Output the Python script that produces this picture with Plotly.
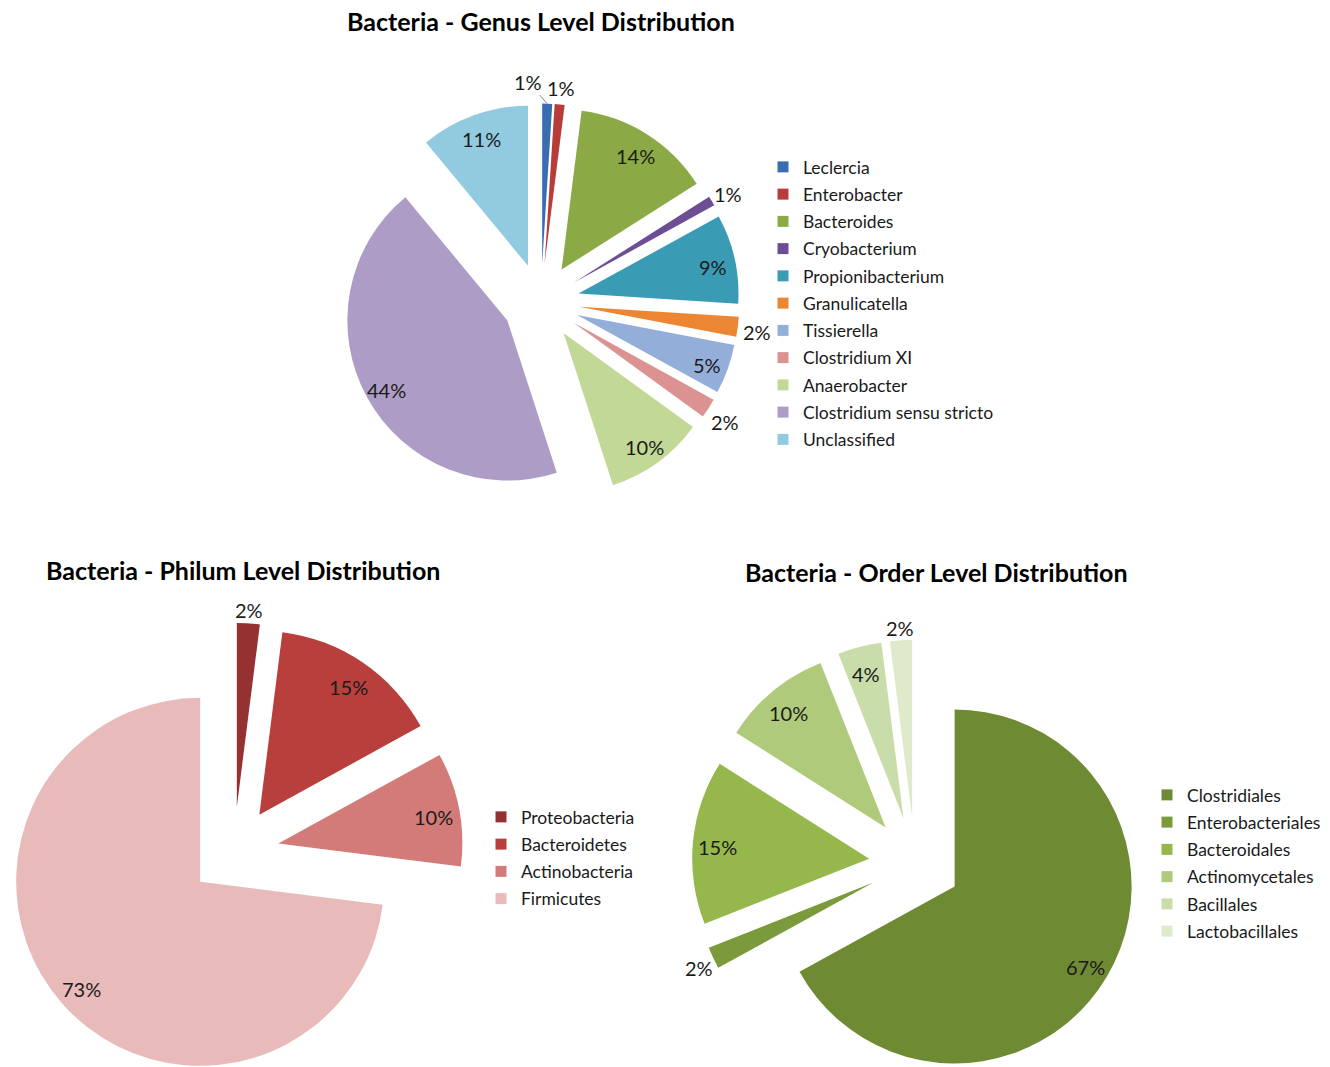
import math
import plotly.graph_objects as go

W, H = 1330, 1067
FONT = "Lato"
TEXT = "#1a1a1a"

# ---- data -------------------------------------------------------------
genus_labels = ["Leclercia", "Enterobacter", "Bacteroides", "Cryobacterium",
                "Propionibacterium", "Granulicatella", "Tissierella",
                "Clostridium XI", "Anaerobacter", "Clostridium sensu stricto",
                "Unclassified"]
genus_values = [1, 1, 14, 1, 9, 2, 5, 2, 10, 44, 11]

phylum_labels = ["Proteobacteria", "Bacteroidetes", "Actinobacteria", "Firmicutes"]
phylum_values = [2, 15, 10, 73]

order_labels = ["Clostridiales", "Enterobacteriales", "Bacteroidales",
                "Actinomycetales", "Bacillales", "Lactobacillales"]
order_values = [67, 2, 15, 10, 4, 2]

# ---- styling ----------------------------------------------------------
genus_colors = ["#3A6CB0", "#B83C3A", "#8BAA46", "#6D4E94", "#3A9BB4",
                "#ED8632", "#94AEDA", "#DD9292", "#C2D896", "#AD9CC6", "#92CADF"]
phylum_colors = ["#953231", "#B93F3D", "#D37B78", "#E8BABA"]
order_colors = ["#6E8B33", "#7A9A3B", "#95B74C", "#AFCA7B", "#C9DDAA", "#DEEAC9"]

# chart layout: centre (px), radius (px), explosion fraction, label placement
charts = [
    dict(title="Bacteria - Genus Level Distribution", title_xy=(541, 21),
         labels=genus_labels, values=genus_values, colors=genus_colors,
         center=(541, 302), r=160, explode=0.24, k_out=1.12,
         outside={0, 1, 3, 5, 7}, nudge={0: (-20, -6)}, leader={0},
         legend="legend", legend_xy=(763, 149)),
    dict(title="Bacteria - Philum Level Distribution", title_xy=(243, 570),
         labels=phylum_labels, values=phylum_values, colors=phylum_colors,
         center=(234, 852), r=184, explode=0.245, k_out=1.09,
         outside={0}, nudge={}, leader=set(),
         legend="legend2", legend_xy=(481, 799)),
    dict(title="Bacteria - Order Level Distribution", title_xy=(936, 572),
         labels=order_labels, values=order_values, colors=order_colors,
         center=(915, 863), r=177, explode=0.26, k_out=1.09,
         outside={1, 5}, nudge={}, leader=set(),
         legend="legend3", legend_xy=(1147, 777)),
]

K_IN = 0.86
LABEL_DROP = 3  # px, vertical offset of percentage labels


def px(x, y):
    return x / W, 1 - y / H


fig = go.Figure()
annotations = []

for ch in charts:
    vals = ch["values"]
    total = float(sum(vals))
    cx, cy = ch["center"]
    r = ch["r"]
    e = ch["explode"]
    cum = 0.0
    for i, (lab, v, col) in enumerate(zip(ch["labels"], vals, ch["colors"])):
        a0 = 360.0 * cum / total
        mid = math.radians(a0 + 180.0 * v / total)
        cum += v
        dx, dy = math.sin(mid), -math.cos(mid)
        # each slice is its own pie, shifted outward along its bisector
        sx, sy = cx + e * r * dx, cy + e * r * dy
        x0, y1 = px(sx - r, sy - r)
        x1, y0 = px(sx + r, sy + r)
        fig.add_trace(go.Pie(
            values=[v, total - v], labels=[lab, "rest"],
            sort=False, direction="clockwise", rotation=a0,
            marker=dict(colors=[col, "rgba(0,0,0,0)"], line=dict(width=0)),
            textinfo="none", hoverinfo="skip", showlegend=False,
            domain=dict(x=[max(0, x0), min(1, x1)], y=[max(0, y0), min(1, y1)]),
        ))
        k = ch["k_out"] if i in ch["outside"] else K_IN
        lx, ly = sx + k * r * dx, sy + k * r * dy + LABEL_DROP
        nx, ny = ch["nudge"].get(i, (0, 0))
        lx, ly = lx + nx, ly + ny
        if i in ch["leader"]:
            tx, ty = sx + r * dx, sy + r * dy
            ax, ay = px(tx, ty)
            annotations.append(dict(
                x=ax, y=ay, xref="paper", yref="paper", text=f"{v}%",
                showarrow=True, arrowhead=0, arrowwidth=1, arrowcolor="#8c8c8c",
                ax=lx - tx, ay=ly - ty, standoff=0,
                font=dict(family=FONT, size=20, color=TEXT)))
        else:
            ax, ay = px(lx, ly)
            annotations.append(dict(
                x=ax, y=ay, xref="paper", yref="paper", text=f"{v}%",
                showarrow=False, xanchor="center", yanchor="middle",
                font=dict(family=FONT, size=20, color=TEXT)))
        # legend entry
        fig.add_trace(go.Scatter(
            x=[None], y=[None], mode="markers", name=lab,
            marker=dict(symbol="square", size=11, color=col),
            legend=ch["legend"], legendgroup=f"{ch['legend']}_{i}",
            hoverinfo="skip"))

    tx, ty = px(*ch["title_xy"])
    annotations.append(dict(
        x=tx, y=ty, xref="paper", yref="paper", text=f"<b>{ch['title']}</b>",
        showarrow=False, xanchor="center", yanchor="middle",
        font=dict(family=FONT, size=25, color="#000000")))

legend_style = dict(font=dict(family=FONT, size=17.5, color=TEXT),
                    bgcolor="rgba(0,0,0,0)", tracegroupgap=1.5,
                    xanchor="left", yanchor="top", itemclick=False)

layout_legends = {}
for ch in charts:
    lx, ly = px(*ch["legend_xy"])
    layout_legends[ch["legend"]] = dict(x=lx, y=ly, **legend_style)

fig.update_layout(
    width=W, height=H,
    margin=dict(l=0, r=0, t=0, b=0),
    paper_bgcolor="white", plot_bgcolor="white",
    xaxis=dict(visible=False), yaxis=dict(visible=False),
    annotations=annotations,
    **layout_legends,
)

fig.write_html("out.html")
